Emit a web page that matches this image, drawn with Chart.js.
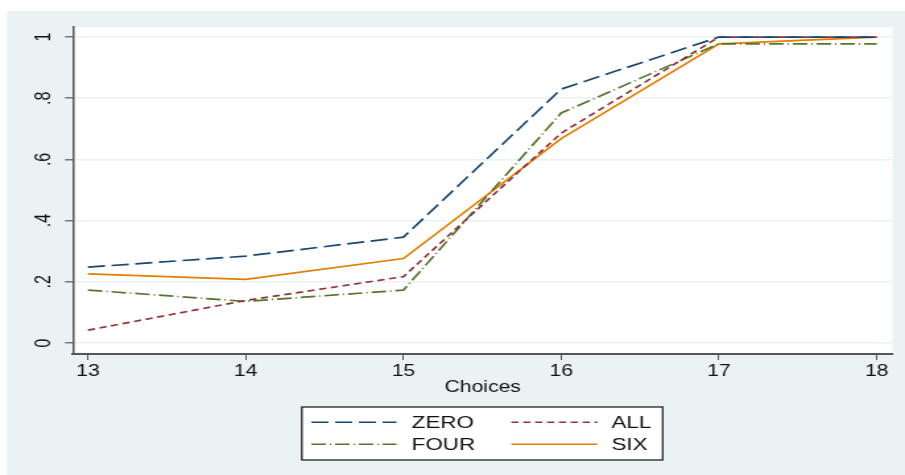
<!DOCTYPE html>
<html>
<head>
<meta charset="utf-8">
<script src="https://cdn.jsdelivr.net/npm/chart.js@4"></script>
<style>
  html, body { margin: 0; padding: 0; background: #fff; }
  /* the reference is a stretched Stata export, so the canvas is drawn narrow and widened */
  #chart { display: block; width: 905px !important; height: 475px !important; }
</style>
</head>
<body>
<canvas id="chart" width="686" height="475" style="width:905px;height:475px"></canvas>
<script>
const choices = [13, 14, 15, 16, 17, 18];
const zeroShare = [0.248, 0.284, 0.346, 0.830, 1.000, 1.000];
const allShare = [0.042, 0.139, 0.217, 0.686, 1.000, 1.000];
const fourShare = [0.173, 0.136, 0.173, 0.752, 0.978, 0.978];
const sixShare = [0.226, 0.208, 0.276, 0.668, 0.978, 1.000];
const seriesNames = ['ZERO', 'ALL', 'FOUR', 'SIX'];
const yTicks = [0, 0.2, 0.4, 0.6, 0.8, 1];
const yTickLabels = ['0', '.2', '.4', '.6', '.8', '1'];
const xTitle = 'Choices';

const BG = '#eaf2f3';
const AXIS = '#555555';

const toPoints = vals => vals.map((v, i) => ({ x: choices[i], y: v }));

// outer panel + white plot region
const backdrop = {
  id: 'backdrop',
  beforeDraw(chart) {
    const { ctx, width, height, chartArea: a } = chart;
    ctx.save();
    ctx.fillStyle = '#ffffff';
    ctx.fillRect(0, 0, width, height);
    ctx.fillStyle = BG;
    ctx.fillRect(5.3, 11, width - 5.3, height - 11);
    ctx.fillStyle = '#ffffff';
    ctx.fillRect(a.left, a.top, a.right - a.left, a.bottom - a.top);
    ctx.restore();
  }
};

// boxed two-column legend like Stata's
const boxLegend = {
  id: 'boxLegend',
  afterDraw(chart) {
    const ctx = chart.ctx;
    const sets = chart.data.datasets;
    const order = [0, 1, 2, 3];
    const cols = [{ x0: 236, x1: 300.5, tx: 312 }, { x0: 387.6, x1: 452.8, tx: 463.4 }];
    const rows = [422.3, 444.3];
    ctx.save();
    ctx.fillStyle = '#ffffff';
    ctx.fillRect(228.8, 407, 273.5, 53);
    ctx.strokeStyle = '#111111';
    ctx.lineWidth = 1.2;
    ctx.strokeRect(228.8, 407, 273.5, 53);
    order.forEach((di, k) => {
      const ds = sets[di];
      const c = cols[k % 2], y = rows[Math.floor(k / 2)];
      ctx.beginPath();
      ctx.setLineDash(ds.borderDash || []);
      ctx.strokeStyle = ds.borderColor;
      ctx.lineWidth = 1.4;
      ctx.moveTo(c.x0, y);
      ctx.lineTo(c.x1, y);
      ctx.stroke();
      ctx.setLineDash([]);
      ctx.fillStyle = '#111111';
      ctx.font = '17px "Liberation Sans", Arial, sans-serif';
      ctx.textBaseline = 'middle';
      ctx.textAlign = 'left';
      ctx.fillText(ds.label, c.tx, y + 1);
    });
    ctx.restore();
  }
};

const lineStyle = (label, data, color, dash) => ({
  label: label,
  data: toPoints(data),
  borderColor: color,
  backgroundColor: color,
  borderDash: dash,
  borderWidth: 1.7,
  pointRadius: 0,
  tension: 0,
  fill: false
});

new Chart(document.getElementById('chart'), {
  type: 'line',
  data: {
    datasets: [
      lineStyle(seriesNames[0], zeroShare, '#1a476f', [13, 5]),
      lineStyle(seriesNames[1], allShare, '#90353b', [5.5, 3.5]),
      lineStyle(seriesNames[2], fourShare, '#55752f', [11, 3, 1, 3]),
      lineStyle(seriesNames[3], sixShare, '#e37e00', [])
    ]
  },
  options: {
    responsive: false,
    animation: false,
    layout: { padding: { left: 0, top: 27, right: 9.5, bottom: 76 } },
    plugins: {
      legend: { display: false },
      tooltip: { enabled: false }
    },
    scales: {
      x: {
        type: 'linear',
        min: 12.905,
        max: 18.1,
        afterBuildTicks: s => { s.ticks = choices.map(v => ({ value: v })); },
        afterFit: s => { s.height = 45; },
        ticks: {
          color: '#111111',
          padding: 2,
          maxRotation: 0,
          font: { family: '"Liberation Sans", Arial, sans-serif', size: 16 }
        },
        grid: {
          drawOnChartArea: false,
          drawTicks: true,
          tickLength: 6,
          tickColor: AXIS,
          tickWidth: 1
        },
        border: { color: AXIS, width: 2 },
        title: {
          display: true,
          text: xTitle,
          color: '#111111',
          padding: { top: 0, bottom: 2 },
          font: { family: '"Liberation Sans", Arial, sans-serif', size: 16 }
        }
      },
      y: {
        min: -0.036,
        max: 1.033,
        afterBuildTicks: s => { s.ticks = yTicks.map(v => ({ value: v })); },
        afterFit: s => { s.width = 55.3; },
        ticks: {
          color: '#111111',
          minRotation: 90,
          maxRotation: 90,
          crossAlign: 'center',
          padding: 8.6,
          callback: (v, i) => yTickLabels[i],
          font: { family: '"Liberation Sans", Arial, sans-serif', size: 16 }
        },
        grid: {
          color: BG,
          lineWidth: 1.6,
          drawTicks: true,
          tickLength: 6,
          tickColor: AXIS,
          tickWidth: 1.2
        },
        border: { color: AXIS, width: 1.5 }
      }
    }
  },
  plugins: [backdrop, boxLegend]
});
</script>
</body>
</html>
